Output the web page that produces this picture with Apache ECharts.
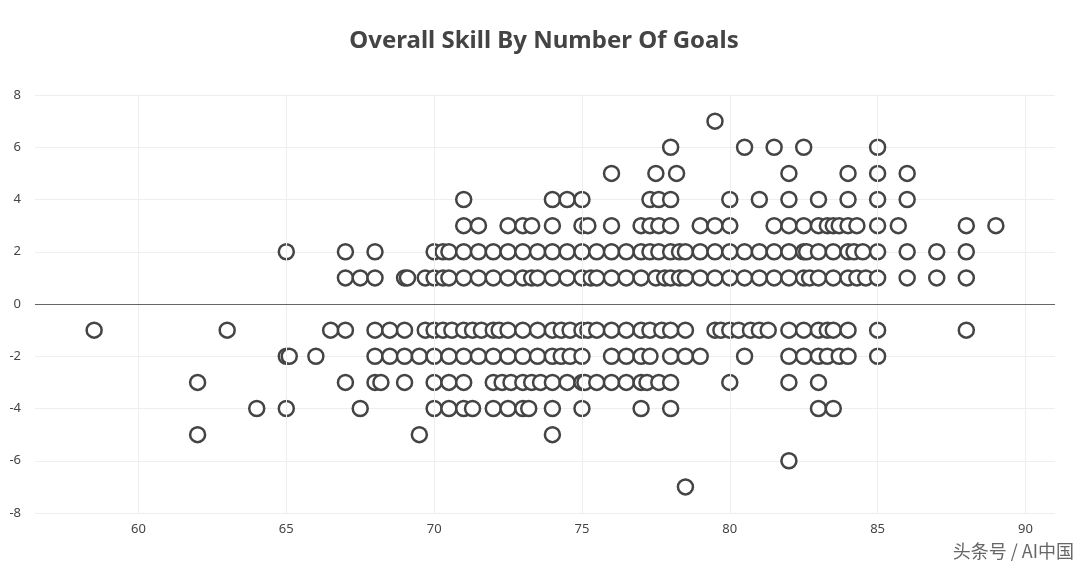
<!DOCTYPE html>
<html><head><meta charset="utf-8">
<script src="https://cdn.jsdelivr.net/npm/echarts@6/dist/echarts.min.js"></script>
<style>html,body{margin:0;padding:0;background:#fff}#c{width:1088px;height:568px}</style>
</head><body><div id="c"></div>
<script>
const rows = {
  "7": [79.5],
  "6": [78, 80.5, 81.5, 82.5, 85],
  "5": [76, 77.5, 78.2, 82, 84, 85, 86],
  "4": [71, 74, 74.5, 75, 77.3, 77.6, 78, 80, 81, 82, 83, 84, 85, 86],
  "3": [71, 71.5, 72.5, 73, 73.3, 74, 75, 75.2, 76, 77, 77.3, 77.6, 78, 79, 79.5, 80, 81.5, 82, 82.5, 83, 83.3, 83.5, 83.7, 84, 84.3, 85, 85.7, 88, 89],
  "2": [65, 67, 68, 70, 70.3, 70.5, 71, 71.5, 72, 72.5, 73, 73.5, 74, 74.5, 75, 75.5, 76, 76.5, 77, 77.3, 77.6, 78, 78.3, 78.5, 79, 79.5, 80, 80.5, 81, 81.5, 82, 82.5, 82.6, 83, 83.5, 84, 84.2, 84.5, 85, 86, 87, 88],
  "1": [67, 67.5, 68, 69, 69.1, 69.7, 70, 70.3, 70.5, 71, 71.5, 72, 72.5, 73, 73.3, 73.5, 74, 74.5, 75, 75.3, 75.5, 76, 76.5, 77, 77.5, 77.8, 78, 78.3, 78.5, 79, 79.5, 80, 80.5, 81, 81.5, 82, 82.5, 82.7, 83, 83.5, 84, 84.3, 84.6, 85, 86, 87, 88],
  "-1": [58.5, 63, 66.5, 67, 68, 68.5, 69, 69.7, 70, 70.3, 70.6, 71, 71.3, 71.6, 72, 72.2, 72.5, 73, 73.5, 74, 74.3, 74.6, 75, 75.2, 75.5, 76, 76.5, 77, 77.3, 77.7, 78, 78.5, 79.5, 79.7, 80, 80.3, 80.7, 81, 81.3, 82, 82.5, 83, 83.3, 83.5, 84, 85, 88],
  "-2": [65, 65.1, 66, 68, 68.5, 69, 69.5, 70, 70.5, 71, 71.5, 72, 72.5, 73, 73.5, 74, 74.3, 74.6, 75, 76, 76.5, 77, 77.3, 78, 78.5, 79, 80.5, 82, 82.5, 83, 83.3, 83.7, 84, 85],
  "-3": [62, 67, 68, 68.2, 69, 70, 70.5, 71, 72, 72.3, 72.6, 73, 73.3, 73.6, 74, 74.5, 75, 75.1, 75.5, 76, 76.5, 77, 77.2, 77.6, 78, 80, 82, 83],
  "-4": [64, 65, 67.5, 70, 70.5, 71, 71.3, 72, 72.5, 73, 73.2, 74, 75, 77, 78, 83, 83.5],
  "-5": [62, 69.5, 74],
  "-6": [82],
  "-7": [78.5]
};
const xTicks = [60, 65, 70, 75, 80, 85, 90];
const yTicks = [-8, -6, -4, -2, 0, 2, 4, 6, 8];
const points = [];
for (const k in rows) rows[k].forEach(x => points.push([x, Number(k)]));
const chart = echarts.init(document.getElementById('c'));
chart.setOption({
  animation: false,
  title: {text: 'Overall Skill By Number Of Goals', left: 'center', top: 24,
    textStyle: {fontFamily: 'Noto Sans', fontSize: 24, fontWeight: 'bold', color: '#444'}},
  grid: {left: 35, right: 33, top: 95, bottom: 55},
  xAxis: {type: 'value', min: 56.5, max: 91,
    axisLine: {show: false}, axisTick: {show: false}, splitLine: {show: false},
    axisLabel: {customValues: xTicks, color: '#444', fontSize: 13, margin: 10, fontFamily: 'Noto Sans'}},
  yAxis: {type: 'value', min: -8, max: 8, interval: 2,
    axisLine: {show: false}, axisTick: {show: false},
    splitLine: {lineStyle: {color: '#eee'}},
    axisLabel: {color: '#444', fontSize: 13, margin: 14, fontFamily: 'Noto Sans'}},
  graphic: [{type: 'text', right: 14, bottom: 8,
    style: {text: '头条号 / AI中国', fill: '#666', font: '18px "Noto Sans CJK SC"'}}],
  series: [{
    type: 'scatter', data: points, symbol: 'circle', symbolSize: 15,
    itemStyle: {color: '#fff', borderColor: '#444', borderWidth: 2.5, opacity: 1},
    markLine: {silent: true, symbol: 'none', label: {show: false},
      data: xTicks.map(v => ({xAxis: v, lineStyle: {color: '#eee', width: 1, type: 'solid'}}))
        .concat([{yAxis: 0, lineStyle: {color: '#666', width: 1, type: 'solid'}}])},
    z: 3
  }]
});
</script></body></html>
